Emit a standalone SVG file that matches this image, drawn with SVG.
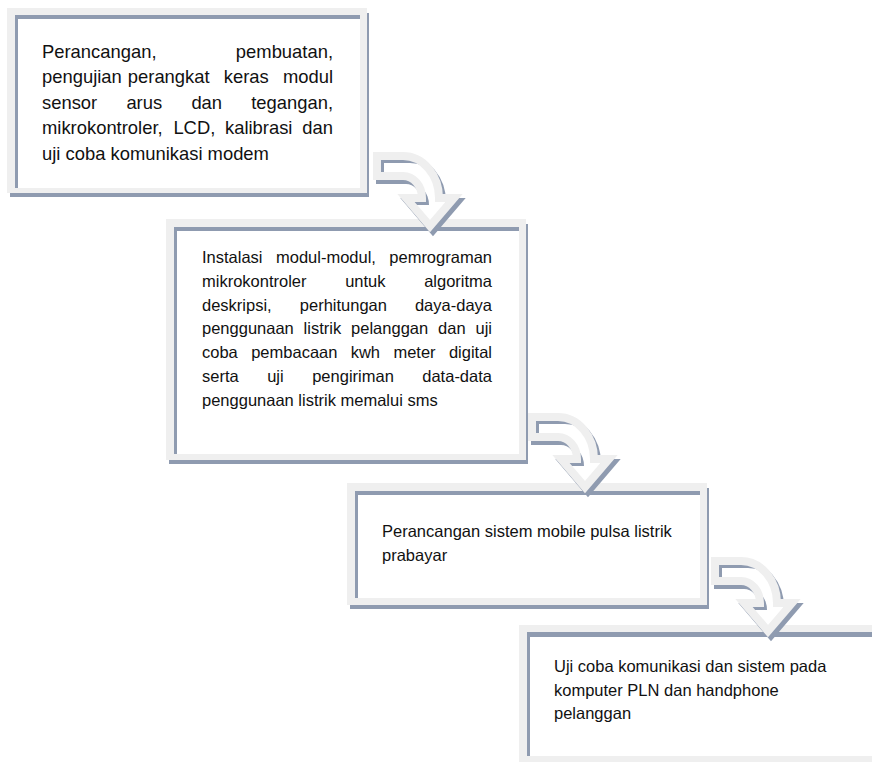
<svg xmlns="http://www.w3.org/2000/svg" xmlns:xlink="http://www.w3.org/1999/xlink" width="872" height="762" viewBox="0 0 872 762">
<style>
.sh{fill:#8f9bb0}
.fr{fill:#efefef}
.dk{fill:#8f9bb0}
.wh{fill:#ffffff}
text{font-family:"Liberation Sans",Arial,sans-serif;fill:#111}
.t1{font-size:18.4px}
.t2{font-size:16.5px}
.ash{fill:#8f9bb0;stroke:#8f9bb0;stroke-width:8;stroke-linejoin:miter}
.adk{fill:#8f9bb0}
.afr{fill:none;stroke:#efefef;stroke-width:8;stroke-linejoin:miter}
</style>
<defs>
<path id="ap" d="M4,4 H30 A36,42 0 0 1 66,46 H81 L57,74 L33,46 H49 A19,22 0 0 0 30,24 H4 Z"/>
<clipPath id="ac"><use xlink:href="#ap"/></clipPath>
</defs>
<rect width="872" height="762" fill="#ffffff"/>

<g id="box1">
<rect class="sh" x="10" y="13" width="359" height="184"/>
<rect class="fr" x="7" y="8" width="360" height="185"/>
<rect class="dk" x="15" y="15" width="345" height="173"/>
<rect class="wh" x="18" y="19" width="342" height="169"/>
<text class="t1" y="57.5"><tspan x="42">Perancangan,</tspan><tspan x="333" text-anchor="end">pembuatan,</tspan></text>
<text class="t1" y="83"><tspan x="42">pengujian</tspan><tspan x="127.8">perangkat</tspan><tspan x="223.8">keras</tspan><tspan x="333" text-anchor="end">modul</tspan></text>
<text class="t1" y="108.5"><tspan x="42">sensor</tspan><tspan x="126.4">arus</tspan><tspan x="191.4">dan</tspan><tspan x="333" text-anchor="end">tegangan,</tspan></text>
<text class="t1" y="134"><tspan x="42">mikrokontroler,</tspan><tspan x="173.4">LCD,</tspan><tspan x="225">kalibrasi</tspan><tspan x="333" text-anchor="end">dan</tspan></text>
<text class="t1" x="42" y="159.5">uji coba komunikasi modem</text>
</g>

<g id="box2">
<rect class="sh" x="169" y="224" width="359" height="240"/>
<rect class="fr" x="166" y="219" width="360" height="241"/>
<rect class="dk" x="174" y="227" width="345" height="227"/>
<rect class="wh" x="177" y="231" width="342" height="223"/>
<text class="t2" y="263"><tspan x="202">Instalasi</tspan><tspan x="276">modul-modul,</tspan><tspan x="492" text-anchor="end">pemrograman</tspan></text>
<text class="t2" y="286.8"><tspan x="202">mikrokontroler</tspan><tspan x="345.2">untuk</tspan><tspan x="492" text-anchor="end">algoritma</tspan></text>
<text class="t2" y="310.6"><tspan x="202">deskripsi,</tspan><tspan x="299.8">perhitungan</tspan><tspan x="492" text-anchor="end">daya-daya</tspan></text>
<text class="t2" y="334.4"><tspan x="202">penggunaan</tspan><tspan x="303.6">listrik</tspan><tspan x="351.1">pelanggan</tspan><tspan x="438.1">dan</tspan><tspan x="492" text-anchor="end">uji</tspan></text>
<text class="t2" y="358.2"><tspan x="202">coba</tspan><tspan x="251.2">pembacaan</tspan><tspan x="350.7">kwh</tspan><tspan x="393.4">meter</tspan><tspan x="492" text-anchor="end">digital</tspan></text>
<text class="t2" y="382"><tspan x="202">serta</tspan><tspan x="267.2">uji</tspan><tspan x="312.2">pengiriman</tspan><tspan x="492" text-anchor="end">data-data</tspan></text>
<text class="t2" x="202" y="405.8">penggunaan listrik memalui sms</text>
</g>

<g id="box3">
<rect class="sh" x="350" y="488" width="359" height="121"/>
<rect class="fr" x="347" y="483" width="360" height="122"/>
<rect class="dk" x="355" y="491" width="345" height="107"/>
<rect class="wh" x="358" y="495" width="342" height="103"/>
<text class="t2" x="382" y="537">Perancangan sistem mobile pulsa listrik</text>
<text class="t2" x="382" y="560.5">prabayar</text>
</g>

<g id="box4">
<rect class="sh" x="522" y="630" width="359" height="150"/>
<rect class="fr" x="519" y="625" width="360" height="150"/>
<rect class="dk" x="527" y="632" width="345" height="124"/>
<rect class="wh" x="530" y="637" width="342" height="119"/>
<text class="t2" x="554" y="672">Uji coba komunikasi dan sistem pada</text>
<text class="t2" x="554" y="695.5">komputer PLN dan handphone</text>
<text class="t2" x="554" y="719">pelanggan</text>
</g>

<g id="connectors">
<g id="arrow1" transform="translate(373,152)">
<use xlink:href="#ap" class="ash" transform="translate(3,4)"/>
<use xlink:href="#ap" class="adk"/>
<g clip-path="url(#ac)"><use xlink:href="#ap" fill="#ffffff" transform="translate(7,7)"/></g>
<use xlink:href="#ap" class="afr"/>
</g>
<g id="arrow2" transform="translate(528,413)">
<use xlink:href="#ap" class="ash" transform="translate(3,4)"/>
<use xlink:href="#ap" class="adk"/>
<g clip-path="url(#ac)"><use xlink:href="#ap" fill="#ffffff" transform="translate(7,7)"/></g>
<use xlink:href="#ap" class="afr"/>
</g>
<g id="arrow3" transform="translate(711,557)">
<use xlink:href="#ap" class="ash" transform="translate(3,4)"/>
<use xlink:href="#ap" class="adk"/>
<g clip-path="url(#ac)"><use xlink:href="#ap" fill="#ffffff" transform="translate(7,7)"/></g>
<use xlink:href="#ap" class="afr"/>
</g>
</g>
</svg>
